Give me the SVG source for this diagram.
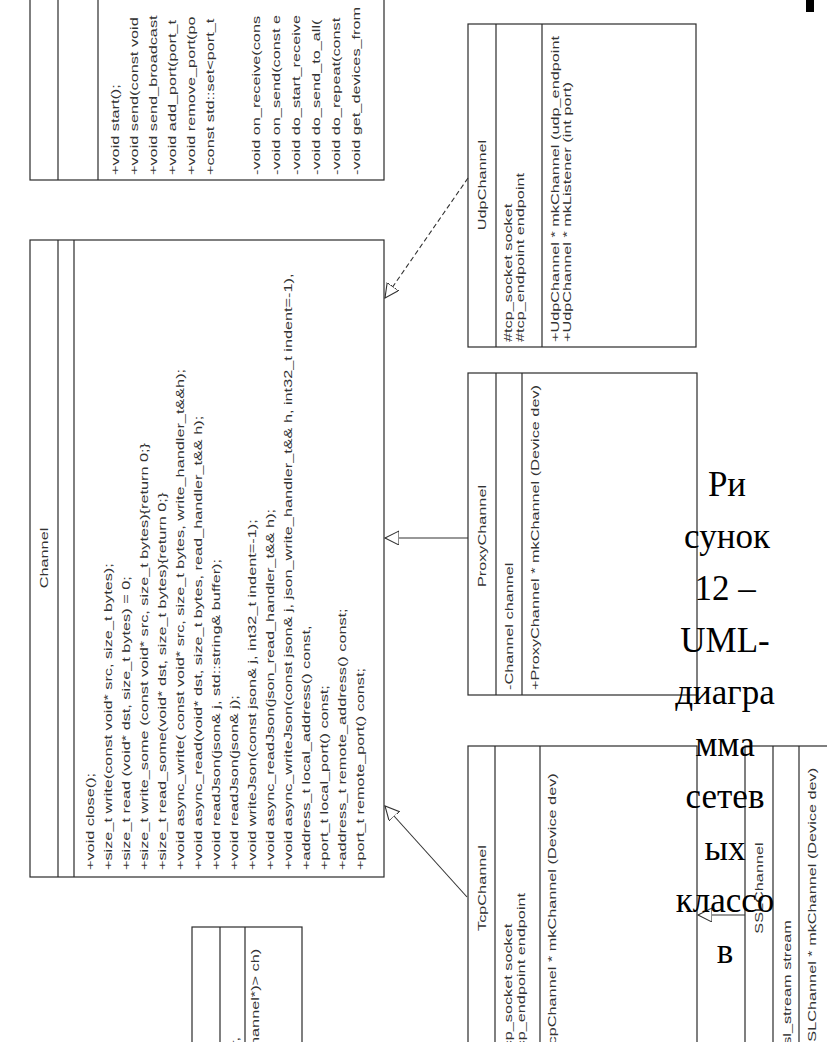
<svg xmlns="http://www.w3.org/2000/svg" width="827" height="1042" viewBox="0 0 827 1042">
  <style>
    .box{fill:#fff;stroke:#2b2b2b;stroke-width:1.2}
    .sep{stroke:#2b2b2b;stroke-width:1.2}
    .t{font-family:"Liberation Sans",Arial,sans-serif;font-size:11px;fill:#333}
    .n{font-family:"Liberation Sans",Arial,sans-serif;font-size:11px;fill:#333;text-anchor:middle}
    .cap{font-family:"Liberation Serif","Times New Roman",serif;font-size:35px;fill:#000;text-anchor:middle}
    .conn{stroke:#333;stroke-width:1.1;fill:none}
    .dash{stroke-dasharray:5 3}
  </style>
  <defs>
    <marker id="gen" markerUnits="userSpaceOnUse" markerWidth="16" markerHeight="16" refX="14" refY="7" orient="auto">
      <path d="M0,0 L14,7 L0,14 Z" fill="#fff" stroke="#333" stroke-width="1.1"/>
    </marker>
  </defs>
  <rect x="0" y="0" width="827" height="1042" fill="#fff"/>

  <!-- server class, clipped at the top edge -->
  <g id="node-server">
    <rect class="box" x="30" y="-5" width="354" height="185"/>
    <line class="sep" x1="58" y1="-5" x2="58" y2="180"/>
    <line class="sep" x1="98" y1="-5" x2="98" y2="180"/>
    <text class="t" transform="translate(119,175) rotate(-90) scale(1.48 1)">+void start();</text>
    <text class="t" transform="translate(138,175) rotate(-90) scale(1.48 1)">+void send(const void</text>
    <text class="t" transform="translate(157,175) rotate(-90) scale(1.48 1)">+void send_broadcast</text>
    <text class="t" transform="translate(176,175) rotate(-90) scale(1.48 1)">+void add_port(port_t</text>
    <text class="t" transform="translate(195,175) rotate(-90) scale(1.48 1)">+void remove_port(po</text>
    <text class="t" transform="translate(214,175) rotate(-90) scale(1.48 1)">+const std::set&lt;port_t</text>
    <text class="t" transform="translate(260,175) rotate(-90) scale(1.48 1)">-void on_receive(cons</text>
    <text class="t" transform="translate(280,175) rotate(-90) scale(1.48 1)">-void on_send(const e</text>
    <text class="t" transform="translate(300,175) rotate(-90) scale(1.48 1)">-void do_start_receive</text>
    <text class="t" transform="translate(320,175) rotate(-90) scale(1.48 1)">-void do_send_to_all(</text>
    <text class="t" transform="translate(340,175) rotate(-90) scale(1.48 1)">-void do_repeat(const</text>
    <text class="t" transform="translate(360,175) rotate(-90) scale(1.48 1)">-void get_devices_from</text>
  </g>

  <!-- Channel base class -->
  <g id="node-channel">
    <rect class="box" x="30" y="240" width="354" height="637"/>
    <line class="sep" x1="58" y1="240" x2="58" y2="877"/>
    <line class="sep" x1="74" y1="240" x2="74" y2="877"/>
    <text class="n" transform="translate(48,558) rotate(-90) scale(1.48 1)">Channel</text>
    <text class="t" transform="translate(94,870) rotate(-90) scale(1.48 1)">+void close();</text>
    <text class="t" transform="translate(112,870) rotate(-90) scale(1.48 1)">+size_t write(const void* src, size_t bytes);</text>
    <text class="t" transform="translate(130,870) rotate(-90) scale(1.48 1)">+size_t read (void* dst, size_t bytes) = 0;</text>
    <text class="t" transform="translate(148,870) rotate(-90) scale(1.48 1)">+size_t write_some (const void* src, size_t bytes){return 0;}</text>
    <text class="t" transform="translate(166,870) rotate(-90) scale(1.48 1)">+size_t read_some(void* dst, size_t bytes){return 0;}</text>
    <text class="t" transform="translate(184,870) rotate(-90) scale(1.48 1)">+void async_write( const void* src, size_t bytes, write_handler_t&amp;&amp;h);</text>
    <text class="t" transform="translate(202,870) rotate(-90) scale(1.48 1)">+void async_read(void* dst, size_t bytes, read_handler_t&amp;&amp; h);</text>
    <text class="t" transform="translate(220,870) rotate(-90) scale(1.48 1)">+void readJson(json&amp; j, std::string&amp; buffer);</text>
    <text class="t" transform="translate(238,870) rotate(-90) scale(1.48 1)">+void readJson(json&amp; j);</text>
    <text class="t" transform="translate(256,870) rotate(-90) scale(1.48 1)">+void writeJson(const json&amp; j, int32_t indent=-1);</text>
    <text class="t" transform="translate(274,870) rotate(-90) scale(1.48 1)">+void async_readJson(json_read_handler_t&amp;&amp; h);</text>
    <text class="t" transform="translate(292,870) rotate(-90) scale(1.48 1)">+void async_writeJson(const json&amp; j, json_write_handler_t&amp;&amp; h, int32_t indent=-1),</text>
    <text class="t" transform="translate(310,870) rotate(-90) scale(1.48 1)">+address_t local_address() const,</text>
    <text class="t" transform="translate(328,870) rotate(-90) scale(1.48 1)">+port_t local_port() const;</text>
    <text class="t" transform="translate(346,870) rotate(-90) scale(1.48 1)">+address_t remote_address() const;</text>
    <text class="t" transform="translate(364,870) rotate(-90) scale(1.48 1)">+port_t remote_port() const;</text>
  </g>

  <!-- small class, clipped at the bottom edge -->
  <g id="node-registry">
    <rect class="box" x="192" y="927" width="110" height="150"/>
    <line class="sep" x1="220" y1="927" x2="220" y2="1077"/>
    <line class="sep" x1="245" y1="927" x2="245" y2="1077"/>
    <text class="t" transform="translate(239,1046) rotate(-90) scale(1.48 1)">r,</text>
    <text class="t" transform="translate(259,1046) rotate(-90) scale(1.48 1)">hannel*)&gt; ch)</text>
  </g>

  <!-- UdpChannel -->
  <g id="node-udp">
    <rect class="box" x="468" y="24" width="228" height="323"/>
    <line class="sep" x1="496" y1="24" x2="496" y2="347"/>
    <line class="sep" x1="542" y1="24" x2="542" y2="347"/>
    <text class="n" transform="translate(486,185) rotate(-90) scale(1.48 1)">UdpChannel</text>
    <text class="t" transform="translate(512,342) rotate(-90) scale(1.48 1)">#tcp_socket socket</text>
    <text class="t" transform="translate(524,342) rotate(-90) scale(1.48 1)">#tcp_endpoint endpoint</text>
    <text class="t" transform="translate(559,342) rotate(-90) scale(1.48 1)">+UdpChannel * mkChannel (udp_endpoint</text>
    <text class="t" transform="translate(571,342) rotate(-90) scale(1.48 1)">+UdpChannel * mkListener (int port)</text>
  </g>

  <!-- ProxyChannel -->
  <g id="node-proxy">
    <rect class="box" x="468" y="373" width="229" height="322"/>
    <line class="sep" x1="496" y1="373" x2="496" y2="695"/>
    <line class="sep" x1="522" y1="373" x2="522" y2="695"/>
    <text class="n" transform="translate(486,536) rotate(-90) scale(1.48 1)">ProxyChannel</text>
    <text class="t" transform="translate(513,690) rotate(-90) scale(1.48 1)">-Channel channel</text>
    <text class="t" transform="translate(539,690) rotate(-90) scale(1.48 1)">+ProxyChannel * mkChannel (Device dev)</text>
  </g>

  <!-- TcpChannel -->
  <g id="node-tcp">
    <rect class="box" x="468" y="746" width="229" height="330"/>
    <line class="sep" x1="495" y1="746" x2="495" y2="1076"/>
    <line class="sep" x1="540" y1="746" x2="540" y2="1076"/>
    <text class="n" transform="translate(486,888) rotate(-90) scale(1.48 1)">TcpChannel</text>
    <text class="t" transform="translate(512,1062) rotate(-90) scale(1.48 1)">#tcp_socket socket</text>
    <text class="t" transform="translate(525,1062) rotate(-90) scale(1.48 1)">#tcp_endpoint endpoint</text>
    <text class="t" transform="translate(556,1062) rotate(-90) scale(1.48 1)">+TcpChannel * mkChannel (Device dev)</text>
  </g>

  <!-- SSLChannel -->
  <g id="node-ssl">
    <rect class="box" x="745" y="746" width="100" height="330"/>
    <line class="sep" x1="773" y1="746" x2="773" y2="1076"/>
    <line class="sep" x1="799" y1="746" x2="799" y2="1076"/>
    <text class="n" transform="translate(763,888) rotate(-90) scale(1.48 1)">SSLChannel</text>
    <text class="t" transform="translate(791,1062) rotate(-90) scale(1.48 1)">#ssl_stream stream</text>
    <text class="t" transform="translate(816,1062) rotate(-90) scale(1.48 1)">+SSLChannel * mkChannel (Device dev)</text>
  </g>

  <!-- generalisation / realisation arrows -->
  <g id="connectors">
    <line class="conn dash" x1="468" y1="178" x2="385" y2="298" marker-end="url(#gen)"/>
    <line class="conn" x1="468" y1="538" x2="385" y2="538" marker-end="url(#gen)"/>
    <line class="conn" x1="467" y1="897" x2="385" y2="806" marker-end="url(#gen)"/>
    <line class="conn" x1="745" y1="915" x2="698" y2="915" marker-end="url(#gen)"/>
  </g>

  <!-- figure caption -->
  <g id="caption">
    <text class="cap" x="727" y="496">Ри</text>
    <text class="cap" x="727" y="548">сунок</text>
    <text class="cap" x="725" y="600">12 –</text>
    <text class="cap" x="725" y="652">UML-</text>
    <text class="cap" x="725" y="704">диагра</text>
    <text class="cap" x="725" y="756">мма</text>
    <text class="cap" x="725" y="808">сетев</text>
    <text class="cap" x="725" y="860">ых</text>
    <text class="cap" x="725" y="912">классо</text>
    <text class="cap" x="725" y="963">в</text>
  </g>

  <rect x="806" y="0" width="8" height="12" fill="#000"/>
</svg>
